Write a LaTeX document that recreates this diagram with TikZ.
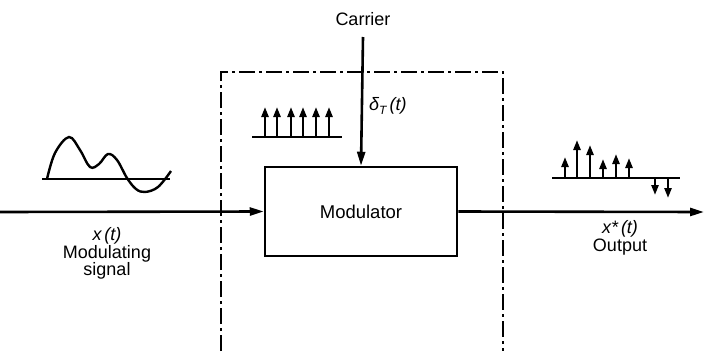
\documentclass[tikz,border=0pt]{standalone}
\usepackage{fontspec}
\setmainfont{Liberation Sans}
\usetikzlibrary{arrows.meta}
\begin{document}
\begin{tikzpicture}[x=1pt,y=-1pt,
  sig/.style={line width=2.6pt,-{Triangle[length=14pt,width=8pt]}},
  imp/.style={line width=2.4pt,-{Triangle[length=10pt,width=7pt]}},
  base/.style={line width=2.1pt},
  lbl/.style={font=\fontsize{18}{20}\selectfont,inner sep=0pt,anchor=base},
  modbox/.style={draw,line width=2.5pt,minimum width=192pt,minimum height=89pt,inner sep=0pt,font=\fontsize{18.5}{20}\selectfont},
  frame/.style={line width=1.7pt,dash pattern=on 16pt off 4pt on 3pt off 4pt}]
\useasboundingbox (0,0) rectangle (704,351);
% dashed frame
\draw[frame] (221,351) -- (221,72) -- (503,72) -- (503,351);
% modulator
\node[modbox] (mod) at (361,211.5) {Modulator};
% carrier
\node[lbl] (car) at (363,25) {Carrier};
\coordinate (carstart) at (363,37);
\draw[sig] (carstart) -- (mod.north);
\node[lbl,anchor=base west] (delta) at (369,110) {\itshape δ\raisebox{-4pt}{\fontsize{12}{13}\selectfont T}\,(t)};
% input
\coordinate (in) at (0,212);
\draw[sig] (in) -- (mod.west);
\node[lbl] (xt) at (107,240) {\itshape x\,(t)};
\node[lbl] (modl) at (107,258) {Modulating};
\node[lbl] (sigl) at (107,275) {signal};
% output
\coordinate (out) at (704,212);
\draw[sig] (mod.east) -- (out);
\node[lbl] (xst) at (620,233) {\itshape x*\,(t)};
\node[lbl] (outl) at (620,251) {Output};
% waveform
\draw[base] (42,179) -- (170,179);
\draw[line width=2.4pt] plot[smooth,tension=0.6] coordinates {(47,179) (55,153) (69,137) (80,150) (90,167) (99,164) (108,154) (117,160) (127,178) (136,189) (145,192) (158,187) (171,171)};
% impulse train (carrier)
\draw[base] (252,137) -- (342,137);
\foreach \x in {265,277,291,303,316,329} \draw[imp] (\x,137) -- (\x,107);
% output impulses
\draw[base] (552,178) -- (680,178);
\foreach \x/\t in {565/157,577/140,590/145,603/159,616/154,629/158} \draw[imp] (\x,178) -- (\x,\t);
\foreach \x/\t in {655/195,668/198} \draw[imp] (\x,178) -- (\x,\t);
\end{tikzpicture}
\end{document}
